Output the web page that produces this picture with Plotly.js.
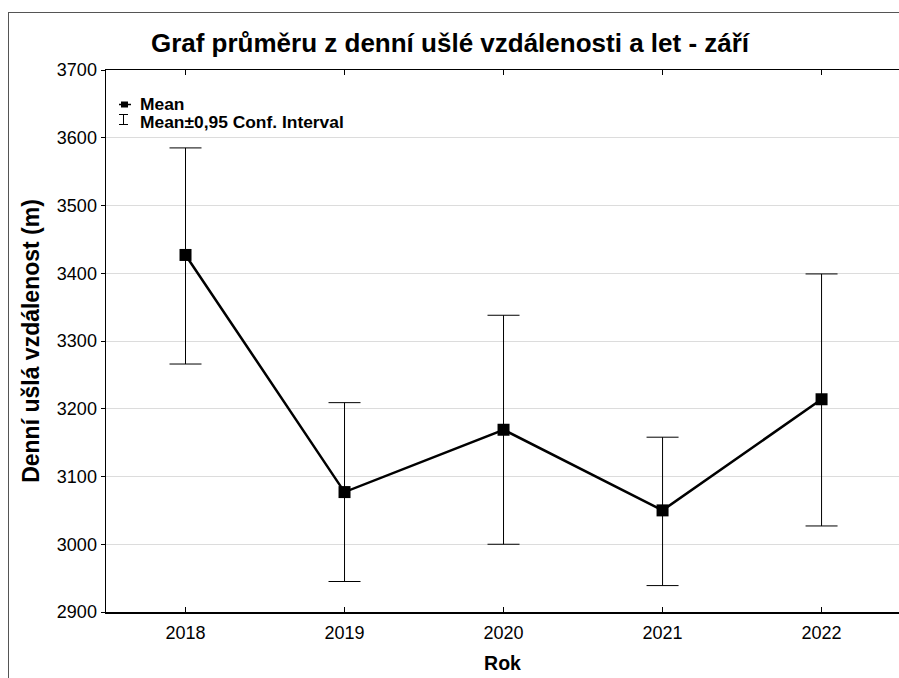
<!DOCTYPE html>
<html>
<head>
<meta charset="utf-8">
<script src="https://cdn.plot.ly/plotly-3.0.1.min.js"></script>
<style>
html,body{margin:0;padding:0;overflow:hidden;background:#fff;}
#wrap{position:relative;width:899px;height:678px;overflow:hidden;}
#frame{position:absolute;left:8px;top:12px;width:2000px;height:2000px;border:1.5px solid #555;box-sizing:border-box;}
#chart{position:absolute;left:0;top:0;width:899px;height:678px;}
</style>
</head>
<body>
<div id="wrap">
<div id="frame"></div>
<div id="chart"></div>
</div>
<script>
// ---- data ----
var years = ["2018", "2019", "2020", "2021", "2022"];
var means = [3427, 3077, 3169, 3050, 3214];
var upperCI = [3585, 3209, 3338, 3158, 3399];
var lowerCI = [3266, 2945, 3000, 2939, 3027];
var yTicks = [2900, 3000, 3100, 3200, 3300, 3400, 3500, 3600, 3700];

var errPlus = means.map(function(m, i){ return upperCI[i] - m; });
var errMinus = means.map(function(m, i){ return m - lowerCI[i]; });

var W = 899, H = 678;
var M = {l: 106, r: 0, t: 70, b: 66};
var PW = W - M.l - M.r, PH = H - M.t - M.b;
function px(x){ return (x - M.l) / PW; }
function py(y){ return 1 - (y - M.t) / PH; }

var FONT = "Liberation Sans, Arial, sans-serif";

var trace = {
  x: years,
  y: means,
  type: "scatter",
  mode: "lines+markers",
  name: "Mean",
  showlegend: false,
  line: {color: "#000", width: 2.5},
  marker: {symbol: "square", size: 12, color: "#000"},
  error_y: {
    type: "data",
    symmetric: false,
    array: errPlus,
    arrayminus: errMinus,
    color: "#000",
    thickness: 1,
    width: 16
  },
  cliponaxis: false
};

var layout = {
  width: W,
  height: H,
  margin: M,
  paper_bgcolor: "rgba(0,0,0,0)",
  plot_bgcolor: "#fff",
  font: {family: FONT, color: "#000", size: 18},
  title: {
    text: "<b>Graf průměru z denní ušlé vzdálenosti a let - září</b>",
    font: {family: FONT, size: 26, color: "#000"},
    xref: "container", yref: "container",
    x: 450 / W, y: 1 - 43 / H, xanchor: "center", yanchor: "middle"
  },
  xaxis: {
    type: "category",
    range: [-0.5, 4.487],
    tickvals: years,
    ticks: "inside",
    ticklen: 5,
    tickcolor: "#000",
    showline: true,
    linecolor: "#000",
    linewidth: 1.5,
    mirror: "ticks",
    showgrid: false,
    tickfont: {family: FONT, size: 18, color: "#000"},
    ticklabelstandoff: 4,
    title: {text: "<b>Rok</b>", font: {family: FONT, size: 19.5, color: "#000"}, standoff: 14},
    automargin: false,
    fixedrange: true
  },
  yaxis: {
    range: [2900, 3700],
    tickvals: yTicks,
    ticks: "outside",
    ticklen: 4,
    tickcolor: "#000",
    showline: true,
    linecolor: "#000",
    linewidth: 1.5,
    mirror: false,
    showgrid: true,
    gridcolor: "#dcdcdc",
    gridwidth: 1,
    zeroline: false,
    tickfont: {family: FONT, size: 18, color: "#000"},
    title: {text: "<b>Denní ušlá vzdálenost (m)</b>", font: {family: FONT, size: 23, color: "#000"}, standoff: 11},
    automargin: false,
    fixedrange: true
  },
  shapes: [
    // legend: Mean glyph
    {type: "line", xref: "paper", yref: "paper", x0: px(119), x1: px(131), y0: py(104.5), y1: py(104.5),
     line: {color: "#000", width: 1.5}},
    {type: "rect", xref: "paper", yref: "paper", x0: px(121), x1: px(128), y0: py(101.5), y1: py(107.5),
     line: {color: "#000", width: 0}, fillcolor: "#000"},
    // legend: CI glyph
    {type: "line", xref: "paper", yref: "paper", x0: px(123.5), x1: px(123.5), y0: py(114.5), y1: py(124.5),
     line: {color: "#000", width: 1}},
    {type: "line", xref: "paper", yref: "paper", x0: px(119), x1: px(128), y0: py(114.5), y1: py(114.5),
     line: {color: "#000", width: 1}},
    {type: "line", xref: "paper", yref: "paper", x0: px(119), x1: px(128), y0: py(124.5), y1: py(124.5),
     line: {color: "#000", width: 1}}
  ],
  annotations: [
    {text: "<b>Mean</b>", xref: "paper", yref: "paper", x: px(138), y: py(104.5),
     xanchor: "left", yanchor: "middle", showarrow: false, font: {family: FONT, size: 17.4, color: "#000"}},
    {text: "<b>Mean±0,95 Conf. Interval</b>", xref: "paper", yref: "paper", x: px(138), y: py(122.5),
     xanchor: "left", yanchor: "middle", showarrow: false, font: {family: FONT, size: 17.4, color: "#000"}}
  ],
  showlegend: false
};

Plotly.newPlot("chart", [trace], layout, {displayModeBar: false, staticPlot: true});
</script>
</body>
</html>
